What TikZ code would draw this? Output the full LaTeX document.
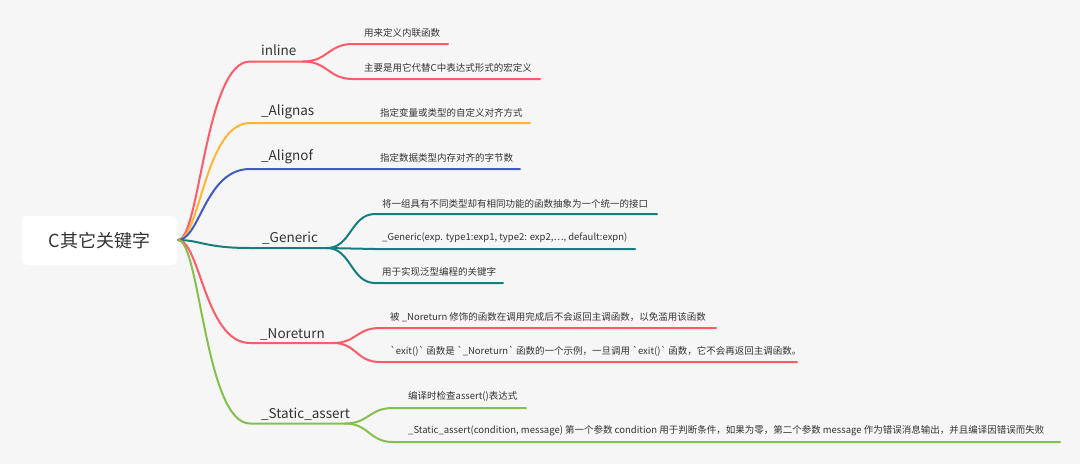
\documentclass[tikz,border=0pt]{standalone}
\usepackage{fontspec}
\setmainfont{Noto Sans CJK SC}[Ligatures=TeXOff]
\definecolor{bg}{HTML}{F6F6F6}
\definecolor{txt}{HTML}{333333}
\definecolor{cred}{HTML}{FF5A68}
\definecolor{corange}{HTML}{FFB634}
\definecolor{cblue}{HTML}{3F5BC6}
\definecolor{cteal}{HTML}{167F7D}
\definecolor{cgreen}{HTML}{84C04E}
\begin{document}
\begin{tikzpicture}[x=1pt,y=-1pt,
  br/.style={line width=2pt, line cap=round},
  lab/.style={anchor=west, inner sep=0pt, font=\fontsize{13.5}{16}\selectfont, text=txt},
  leaf/.style={anchor=west, inner sep=0pt, font=\fontsize{9.5}{11}\selectfont, text=txt},
  rootbox/.style={fill=white, rounded corners=5pt, minimum width=155pt, minimum height=49pt, inner sep=0pt, font=\fontsize{18}{20}\selectfont, text=txt}]
\fill[bg] (0,0) rectangle (1080,464);
\useasboundingbox (0,0) rectangle (1080,464);

\node[rootbox] (root) at (99.5,240.5) {C其它关键字};
\coordinate (R) at (178,240);

% ---------- inline
\node[lab] (inl) at (261,50) {inline};
\node[leaf] (inl1) at (364,33) {用来定义内联函数};
\node[leaf] (inl2) at (364,68) {主要是用它代替C中表达式形式的宏定义};
\coordinate (inlA) at (250,61.5);
\coordinate (inlS) at (303,61.5);
\coordinate (inl1a) at (353,44); \coordinate (inl1b) at (448,44);
\coordinate (inl2a) at (353,79); \coordinate (inl2b) at (540,79);
\draw[br,cred] (R) .. controls +(22,0) and +(-45,0) .. (inlA) -- (inlS);
\draw[br,cred] (inlS) .. controls +(25,0) and +(-25,0) .. (inl1a) -- (inl1b);
\draw[br,cred] (inlS) .. controls +(25,0) and +(-25,0) .. (inl2a) -- (inl2b);

% ---------- _Alignas
\node[lab] (aas) at (261,112) {\_Alignas};
\node[leaf] (aas1) at (380,113) {指定变量或类型的自定义对齐方式};
\coordinate (aasA) at (250,123);
\coordinate (aasB) at (530,123);
\draw[br,corange] (R) .. controls +(22,0) and +(-45,0) .. (aasA) -- (aasB);

% ---------- _Alignof
\node[lab] (aof) at (261,157) {\_Alignof};
\node[leaf] (aof1) at (380,158) {指定数据类型内存对齐的字节数};
\coordinate (aofA) at (250,169);
\coordinate (aofB) at (520,169);
\draw[br,cblue] (R) .. controls +(22,0) and +(-45,0) .. (aofA) -- (aofB);

% ---------- _Generic
\node[lab] (gen) at (262,238) {\_Generic};
\node[leaf] (gen1) at (382,204) {将一组具有不同类型却有相同功能的函数抽象为一个统一的接口};
\node[leaf] (gen2) at (382,238) {\_Generic(exp. type1:exp1, type2: exp2,⋯, default:expn)};
\node[leaf] (gen3) at (382,272) {用于实现泛型编程的关键字};
\coordinate (genA) at (250,248);
\coordinate (genS) at (327,248);
\coordinate (gen1a) at (375,214); \coordinate (gen1b) at (657,214);
\coordinate (gen2a) at (375,249); \coordinate (gen2b) at (635,249);
\coordinate (gen3a) at (375,283); \coordinate (gen3b) at (503,283);
\draw[br,cteal] (R) .. controls +(22,0) and +(-45,0) .. (genA) -- (genS);
\draw[br,cteal] (genS) .. controls +(24,0) and +(-24,0) .. (gen1a) -- (gen1b);
\draw[br,cteal] (genS) .. controls +(24,0) and +(-24,0) .. (gen2a) -- (gen2b);
\draw[br,cteal] (genS) .. controls +(24,0) and +(-24,0) .. (gen3a) -- (gen3b);

% ---------- _Noreturn
\node[lab] (nor) at (260,334) {\_Noreturn};
\node[leaf] (nor1) at (390,317) {被 \_Noreturn 修饰的函数在调用完成后不会返回主调函数，以免滥用该函数};
\node[leaf] (nor2) at (390,351) {`exit()` 函数是 `\_Noreturn` 函数的一个示例，一旦调用 `exit()` 函数，它不会再返回主调函数。};
\coordinate (norA) at (250,343);
\coordinate (norS) at (333,343);
\coordinate (nor1a) at (380,328); \coordinate (nor1b) at (716,328);
\coordinate (nor2a) at (380,362); \coordinate (nor2b) at (797,362);
\draw[br,cred] (R) .. controls +(22,0) and +(-45,0) .. (norA) -- (norS);
\draw[br,cred] (norS) .. controls +(24,0) and +(-24,0) .. (nor1a) -- (nor1b);
\draw[br,cred] (norS) .. controls +(24,0) and +(-24,0) .. (nor2a) -- (nor2b);

% ---------- _Static_assert
\node[lab] (sta) at (261,414) {\_Static\_assert};
\node[leaf] (sta1) at (408,396) {编译时检查assert()表达式};
\node[leaf] (sta2) at (408,431) {\_Static\_assert(condition, message) 第一个参数 condition 用于判断条件，如果为零，第二个参数 message 作为错误消息输出，并且编译因错误而失败};
\coordinate (staA) at (250,423.5);
\coordinate (staS) at (345,423.5);
\coordinate (sta1a) at (393,408); \coordinate (sta1b) at (526,408);
\coordinate (sta2a) at (393,442); \coordinate (sta2b) at (1060,442);
\draw[br,cgreen] (R) .. controls +(22,0) and +(-45,0) .. (staA) -- (staS);
\draw[br,cgreen] (staS) .. controls +(24,0) and +(-24,0) .. (sta1a) -- (sta1b);
\draw[br,cgreen] (staS) .. controls +(24,0) and +(-24,0) .. (sta2a) -- (sta2b);
\end{tikzpicture}
\end{document}
